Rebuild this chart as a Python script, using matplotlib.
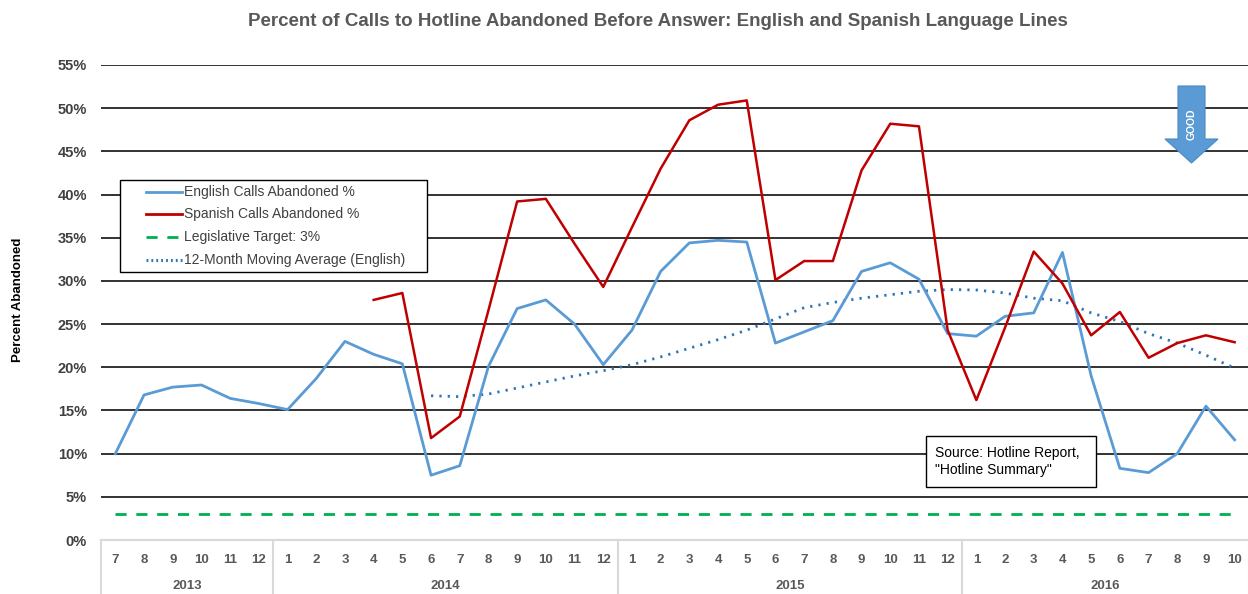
import matplotlib
matplotlib.use("Agg")
import matplotlib.pyplot as plt
from matplotlib.lines import Line2D
from matplotlib.patches import Polygon, Rectangle

plt.rcParams['font.family'] = ['Liberation Sans', 'DejaVu Sans']

years = ["2013", "2014", "2015", "2016"]
months_per_year = [[7, 8, 9, 10, 11, 12],
                   list(range(1, 13)),
                   list(range(1, 13)),
                   list(range(1, 11))]
month_labels = [str(m) for ms in months_per_year for m in ms]

english = [10.0, 16.8, 17.7, 17.95, 16.4, 15.8,
           15.1, 18.7, 23.0, 21.5, 20.4, 7.5, 8.6, 20.1, 26.8, 27.8, 25.0, 20.3,
           24.3, 31.1, 34.4, 34.7, 34.5, 22.8, 24.1, 25.4, 31.1, 32.1, 30.2, 23.9,
           23.6, 25.9, 26.3, 33.3, 19.0, 8.3, 7.8, 10.0, 15.5, 11.6]
spanish_start = 9
spanish = [27.8, 28.6, 11.8, 14.3, 26.6, 39.2, 39.5, 34.3, 29.3,
           36.2, 43.0, 48.6, 50.4, 50.9, 30.1, 32.3, 32.3, 42.8, 48.2, 47.9, 24.3,
           16.2, 24.6, 33.4, 29.7, 23.7, 26.4, 21.1, 22.8, 23.7, 22.9]
ma_start = 11
moving_avg = [16.7, 16.6, 16.9, 17.6, 18.3, 19.0, 19.6,
              20.3, 21.2, 22.2, 23.2, 24.3, 25.6, 26.9, 27.5, 28.0, 28.4, 28.8, 29.0,
              28.95, 28.6, 28.0, 27.7, 26.3, 25.3, 23.9, 22.8, 21.4, 19.9]
target = 3.0
yticks = list(range(0, 60, 5))
legend_labels = ["English Calls Abandoned %", "Spanish Calls Abandoned %",
                 "Legislative Target: 3%", "12-Month Moving Average (English)"]

W, H = 1248, 594
fig = plt.figure(figsize=(W / 100, H / 100), dpi=100)
ax = fig.add_axes([101 / W, (H - 540) / H, 1148 / W, 475 / H])

n = len(english)
x = list(range(n))
c_en = "#5b9bd5"
c_sp = "#c00000"
c_gr = "#00b050"
c_ma = "#2e75b6"
ls_gr = (0, (4, 3.5))
ls_ma = (0, (0.8, 2.2))

ax.plot(x, english, color=c_en, lw=2.0, zorder=4)
ax.plot(x[spanish_start:spanish_start + len(spanish)], spanish, color=c_sp, lw=1.8, zorder=5)
ax.plot([0, n - 1], [target, target], color=c_gr, lw=2.0, ls=ls_gr, zorder=3)
ax.plot(x[ma_start:ma_start + len(moving_avg)], moving_avg, color=c_ma, lw=2.0,
        ls=ls_ma, zorder=3)

ax.set_xlim(-0.5, n - 0.5)
ax.set_ylim(0, 55)
ax.set_yticks(yticks)
ax.set_yticklabels([f"{v}%" for v in yticks], fontsize=10.5, fontweight='bold', color='#404040')
for v in yticks[1:]:
    ax.axhline(v, color='#222222', lw=1.3, zorder=1)
ax.tick_params(axis='y', length=0, pad=10)
ax.set_xticks(x)
ax.set_xticklabels(month_labels, fontsize=9.5, fontweight='bold', color='#595959')
ax.tick_params(axis='x', length=0, pad=10)
for s in ['top', 'right', 'left']:
    ax.spines[s].set_visible(False)
ax.spines['bottom'].set_color('#d9d9d9')
ax.spines['bottom'].set_linewidth(1.5)

# year labels and separators
pos = 0
bounds = [0]
for yr, ms in zip(years, months_per_year):
    center = pos + (len(ms) - 1) / 2
    ax.text(center, -(586 - 540) / 475, yr, transform=ax.get_xaxis_transform(),
            ha='center', va='center', fontsize=9.5, fontweight='bold', color='#595959')
    pos += len(ms)
    bounds.append(pos)
for b in bounds:
    ax.plot([b - 0.5, b - 0.5], [0, -0.12], transform=ax.get_xaxis_transform(),
            color='#d9d9d9', lw=1.5, clip_on=False)

ax.set_ylabel("Percent Abandoned", fontsize=9.5, fontweight='bold', color='black')
ax.yaxis.set_label_coords(-(101 - 24) / 1148, (540 - 300) / 475)

fig.text(658 / W, 1 - 22 / H,
         "Percent of Calls to Hotline Abandoned Before Answer: English and Spanish Language Lines",
         ha='center', va='center', fontsize=13.5, fontweight='bold', color='#595959')

# manual legend (pixel layout)
def fpx(px, py):
    return (px / W, 1 - py / H)

fig.patches.append(Rectangle(fpx(120, 272), 307 / W, 92 / H, transform=fig.transFigure,
                             fc='white', ec='black', lw=1.0, zorder=30))
leg_styles = [dict(color=c_en, lw=2.0), dict(color=c_sp, lw=2.0),
              dict(color=c_gr, lw=2.0, ls=(0, (4, 3.5))),
              dict(color=c_ma, lw=2.2, ls=(0, (0.6, 1.0)))]
rows_y = [192, 214, 237, 260]
for ry, st, lab in zip(rows_y, leg_styles, legend_labels):
    (x0, y0), (x1, _) = fpx(146, ry), fpx(182, ry)
    fig.lines.append(Line2D([x0, x1], [y0, y0], transform=fig.transFigure, zorder=31, **st))
    tx, ty = fpx(184, ry)
    fig.text(tx, ty, lab, ha='left', va='center', fontsize=10, color='#404040', zorder=32)

# source box
fig.patches.append(Rectangle(fpx(926, 487), 170 / W, 51 / H, transform=fig.transFigure,
                             fc='white', ec='black', lw=1.0, zorder=30))
sx, sy = fpx(935, 461.5)
fig.text(sx, sy, "Source: Hotline Report,\n\"Hotline Summary\"", ha='left', va='center',
         fontsize=10, color='black', zorder=32, linespacing=1.25)

# GOOD arrow
arrow_pts = [fpx(1178, 86), fpx(1205, 86), fpx(1205, 139), fpx(1218, 139),
             fpx(1191.5, 163), fpx(1165, 139), fpx(1178, 139)]
fig.patches.append(Polygon(arrow_pts, closed=True, transform=fig.transFigure,
                           fc="#5b9bd5", ec="#4a8ac4", lw=0.8, zorder=20))
gx, gy = fpx(1192, 124)
fig.text(gx, gy, "GOOD", rotation=90, ha='center', va='center',
         fontsize=7.5, fontweight='bold', color='white', zorder=21)

fig.savefig("out.png", dpi=100, facecolor='white')
